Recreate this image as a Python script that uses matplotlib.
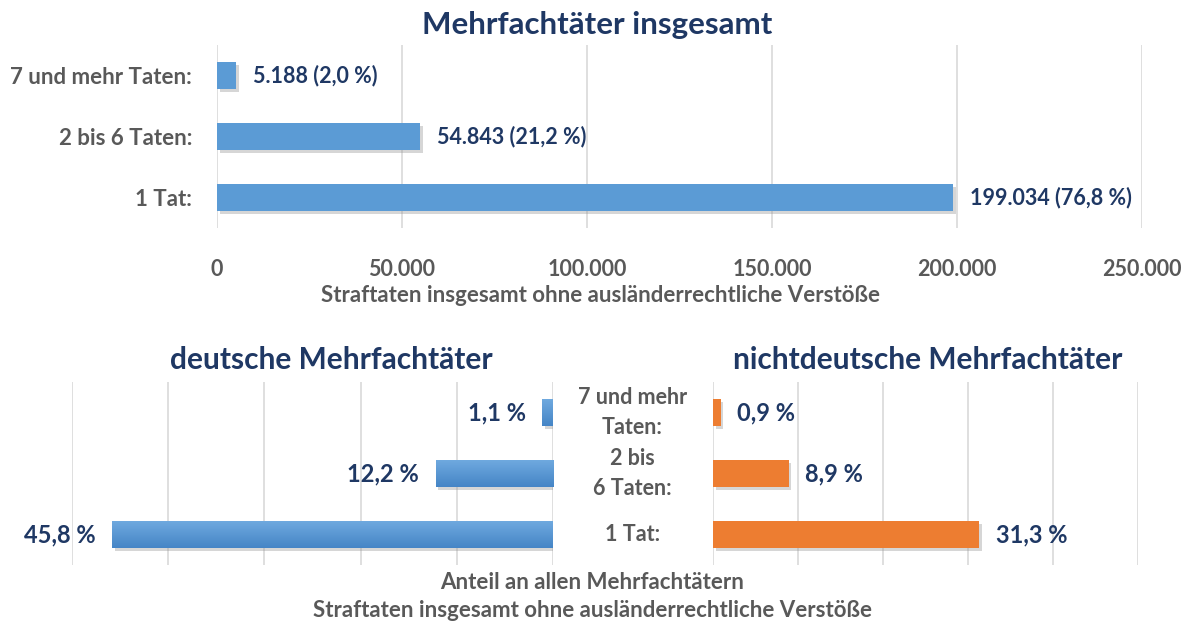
import numpy as np
import matplotlib
matplotlib.use("Agg")
import matplotlib.pyplot as plt
import matplotlib.patheffects as pe
from matplotlib.colors import LinearSegmentedColormap

plt.rcParams['font.family'] = ['Lato', 'DejaVu Sans']
plt.rcParams['font.weight'] = 'bold'

# Daten
kategorien = ['1 Tat:', '2 bis 6 Taten:', '7 und mehr Taten:']
kategorien_nd = ['1 Tat:', '2 bis\n6 Taten:', '7 und mehr\nTaten:']
insgesamt = [199034, 54843, 5188]
insgesamt_labels = ['199.034 (76,8 %)', '54.843 (21,2 %)', '5.188 (2,0 %)']
deutsche = [45.8, 12.2, 1.1]
deutsche_labels = ['45,8 %', '12,2 %', '1,1 %']
nichtdeutsche = [31.3, 8.9, 0.9]
nichtdeutsche_labels = ['31,3 %', '8,9 %', '0,9 %']
x_ticks_top = [0, 50000, 100000, 150000, 200000, 250000]
x_ticklabels_top = ['0', '50.000', '100.000', '150.000', '200.000', '250.000']

BLAU = '#5B9BD5'
ORANGE = '#ED7D31'
NAVY = '#1F3864'
GRAU = '#595959'
GITTER = '#D9D9D9'

schatten = [pe.SimplePatchShadow(offset=(2, -2), shadow_rgbFace='#8c8c8c', alpha=0.35), pe.Normal()]

fig = plt.figure(figsize=(11.85, 6.24), dpi=100)
y = np.arange(3)


def grundstil(ax):
    for s in ax.spines.values():
        s.set_visible(False)
    ax.grid(axis='x', color=GITTER, linewidth=1.2)
    ax.set_axisbelow(True)
    ax.set_ylim(-0.5, 2.5)


# oberes Diagramm
ax1 = fig.add_axes([0.1831, 0.6346, 0.7806, 0.2933])
bars = ax1.barh(y, insgesamt, height=0.44, color=BLAU)
for b in bars:
    b.set_path_effects(schatten)
grundstil(ax1)
ax1.set_xlim(0, 250000)
ax1.set_xticks(x_ticks_top)
ax1.set_xticklabels(x_ticklabels_top)
ax1.set_yticks(y)
ax1.set_yticklabels(kategorien)
ax1.tick_params(axis='x', length=0, pad=22, labelsize=15.5, labelcolor=GRAU)
ax1.tick_params(axis='y', length=0, pad=18, labelsize=16, labelcolor=GRAU)
for b, lab in zip(bars, insgesamt_labels):
    ax1.annotate(lab, (b.get_width(), b.get_y() + b.get_height() / 2),
                 xytext=(12, 0), textcoords='offset points', va='center', ha='left',
                 fontsize=15.5, color=NAVY, fontweight='bold')

fig.text(0.504, 0.96, 'Mehrfachtäter insgesamt', ha='center', va='center',
         fontsize=22.5, color=NAVY, fontweight='bold')
fig.text(0.507, 0.527, 'Straftaten insgesamt ohne ausländerrechtliche Verstöße',
         ha='center', va='center', fontsize=16, color=GRAU, fontweight='bold')

# unten links: deutsche
ax2 = fig.add_axes([0.0608, 0.0946, 0.4059, 0.2933])
bars2 = ax2.barh(y, deutsche, height=0.44, color=BLAU)
verlauf = LinearSegmentedColormap.from_list('verlauf', ['#4585C6', '#6FA9DF'])
grad = np.linspace(0, 1, 64).reshape(-1, 1)
for b in bars2:
    b.set_path_effects(schatten)
    x0, y0 = b.get_x(), b.get_y()
    im = ax2.imshow(grad, extent=[x0, x0 + b.get_width(), y0, y0 + b.get_height()],
                    origin='lower', aspect='auto', cmap=verlauf, zorder=b.get_zorder() + 0.1)
    im.set_clip_path(b)
grundstil(ax2)
ax2.set_xlim(50, 0)
ax2.set_xticks([50, 40, 30, 20, 10, 0])
ax2.set_yticks([])
ax2.tick_params(axis='x', length=0, labelbottom=False)
for b, lab in zip(bars2, deutsche_labels):
    ax2.annotate(lab, (b.get_width(), b.get_y() + b.get_height() / 2),
                 xytext=(-12, 0), textcoords='offset points', va='center', ha='right',
                 fontsize=17, color=NAVY, fontweight='bold')
fig.text(0.28, 0.423, 'deutsche Mehrfachtäter', ha='center', va='center',
         fontsize=21.5, color=NAVY, fontweight='bold')

# unten rechts: nichtdeutsche
ax3 = fig.add_axes([0.6017, 0.0946, 0.3586, 0.2933])
bars3 = ax3.barh(y, nichtdeutsche, height=0.44, color=ORANGE)
for b in bars3:
    b.set_path_effects(schatten)
grundstil(ax3)
ax3.set_xlim(0, 50)
ax3.set_xticks([0, 10, 20, 30, 40, 50])
ax3.set_yticks(y)
ax3.set_yticklabels(kategorien_nd, ha='center', va='center',
                    multialignment='center', linespacing=1.55)
ax3.tick_params(axis='x', length=0, labelbottom=False)
ax3.tick_params(axis='y', length=0, pad=58, labelsize=15.5, labelcolor=GRAU)
for b, lab in zip(bars3, nichtdeutsche_labels):
    ax3.annotate(lab, (b.get_width(), b.get_y() + b.get_height() / 2),
                 xytext=(12, 0), textcoords='offset points', va='center', ha='left',
                 fontsize=17, color=NAVY, fontweight='bold')
fig.text(0.783, 0.423, 'nichtdeutsche Mehrfachtäter', ha='center', va='center',
         fontsize=21.5, color=NAVY, fontweight='bold')

fig.text(0.5, 0.0673, 'Anteil an allen Mehrfachtätern', ha='center', va='center',
         fontsize=16, color=GRAU, fontweight='bold')
fig.text(0.5, 0.0224, 'Straftaten insgesamt ohne ausländerrechtliche Verstöße',
         ha='center', va='center', fontsize=16, color=GRAU, fontweight='bold')

fig.savefig('out.png', dpi=100)
